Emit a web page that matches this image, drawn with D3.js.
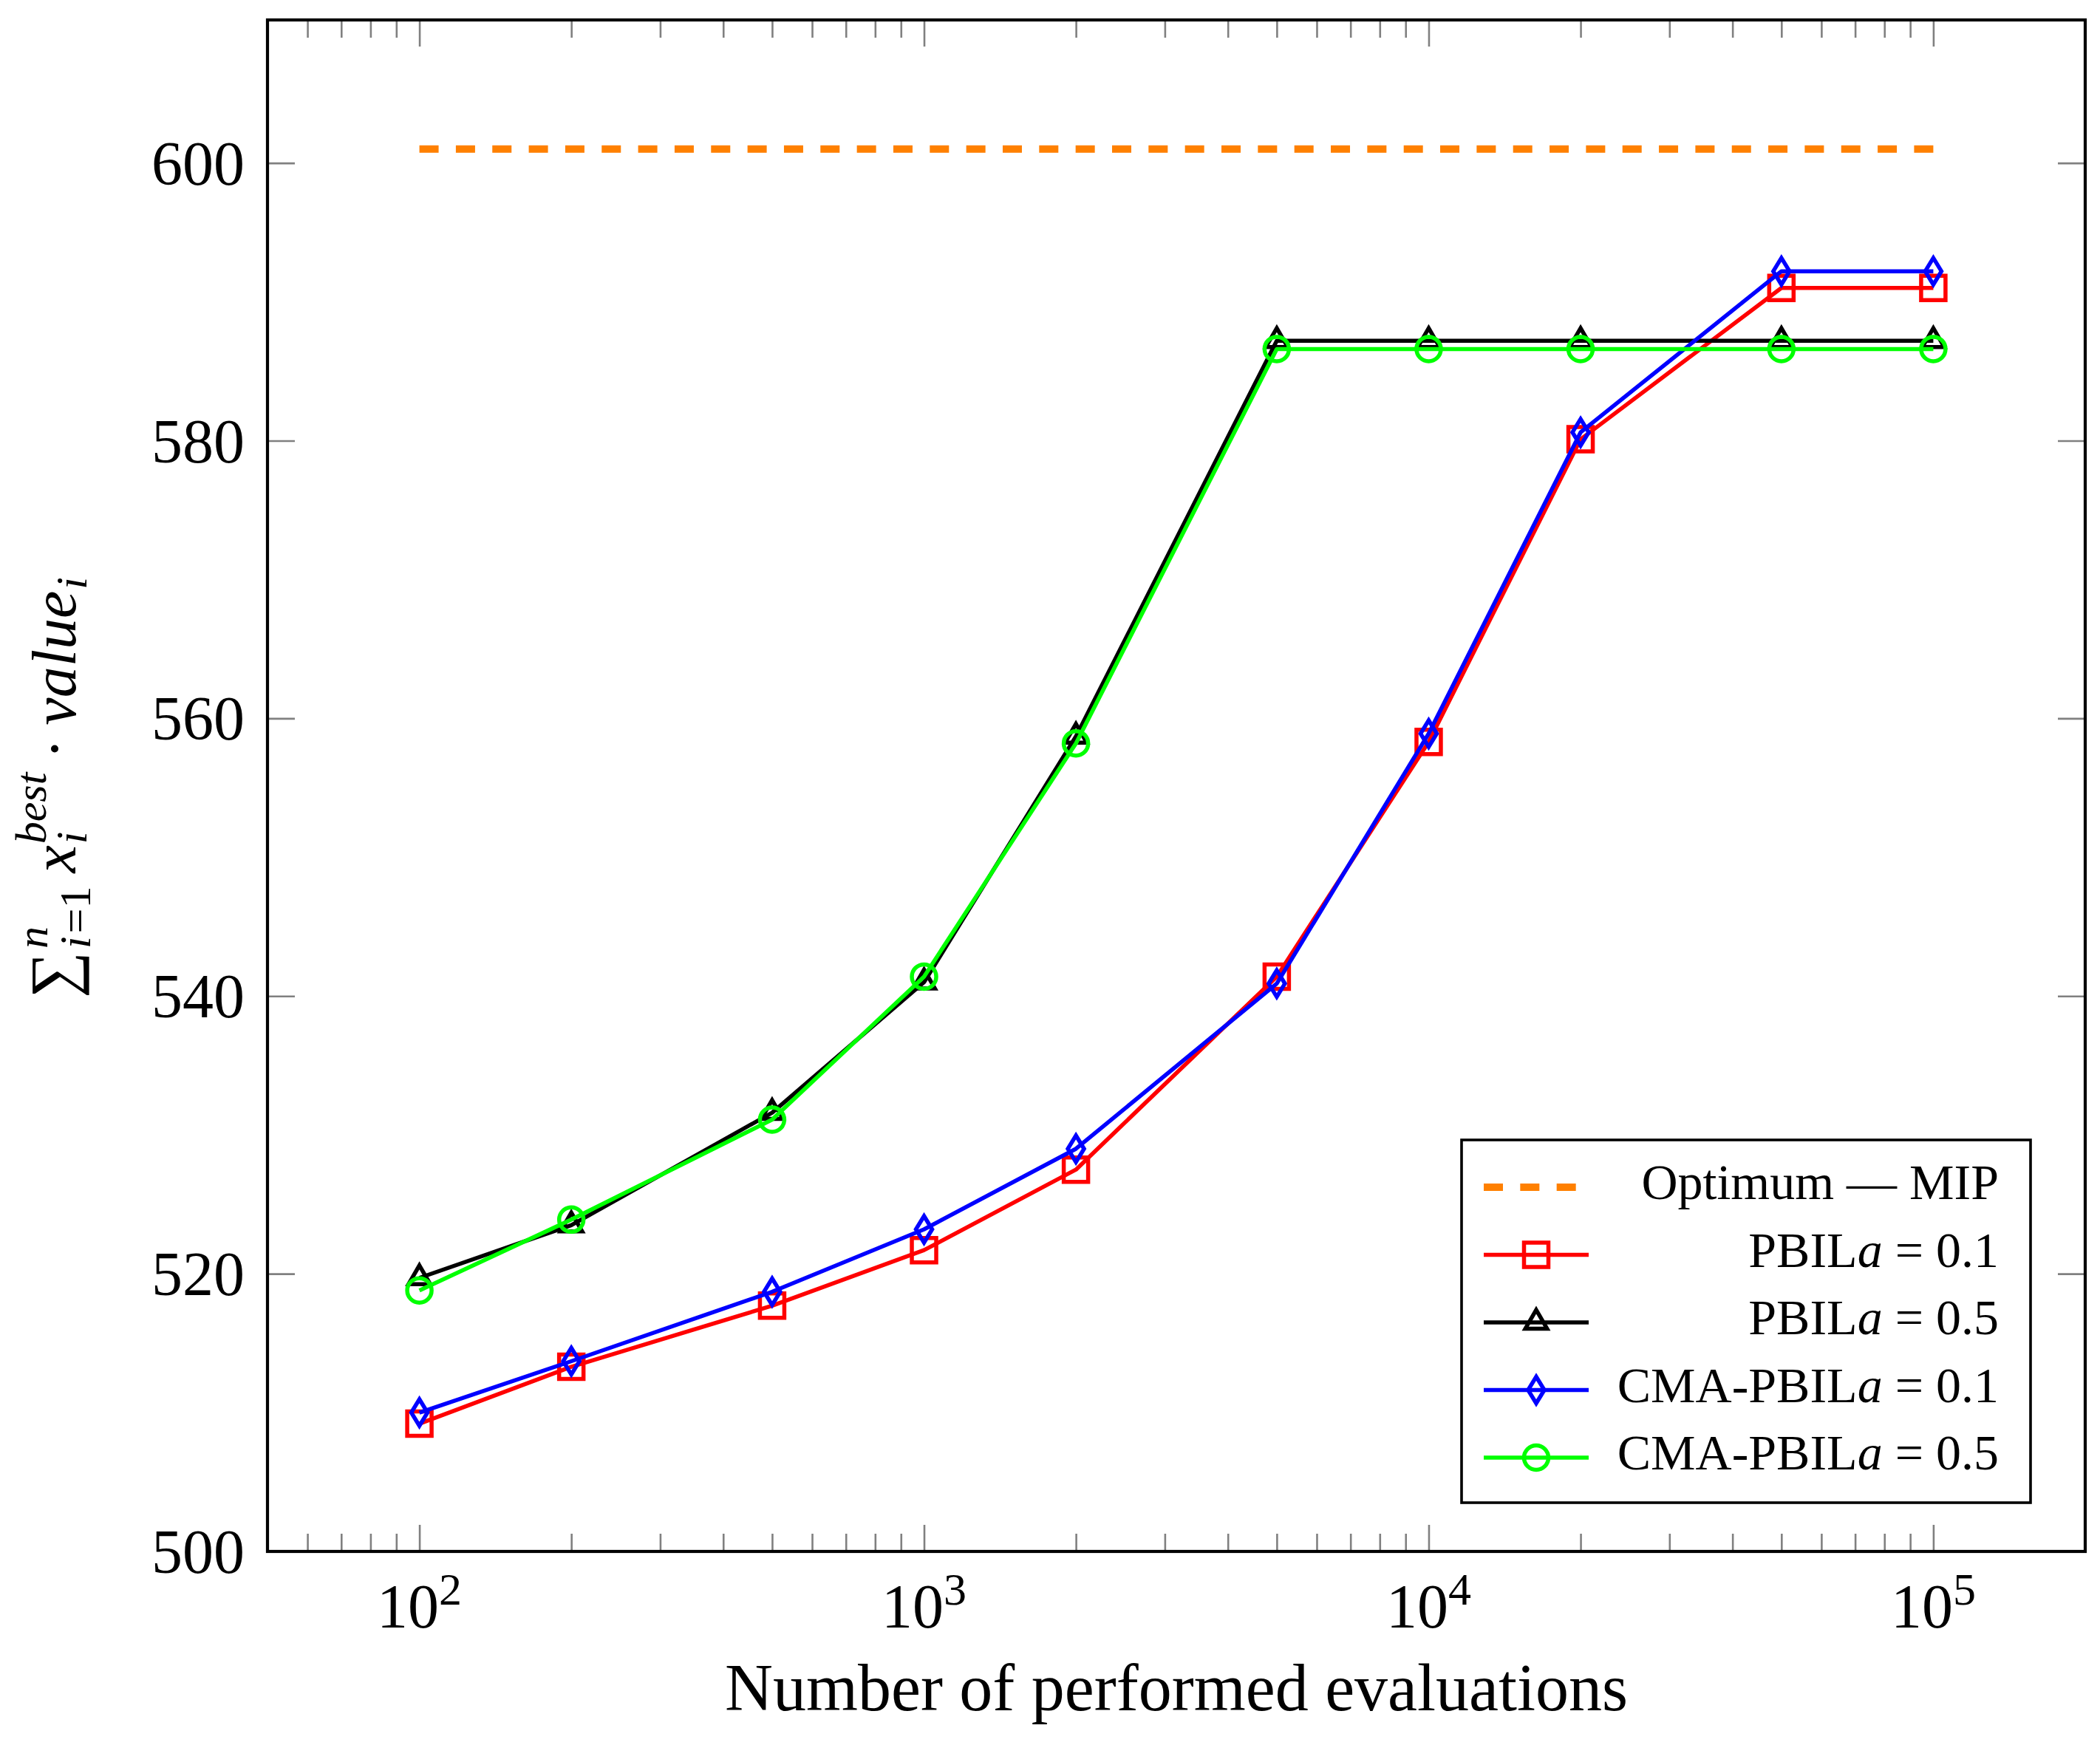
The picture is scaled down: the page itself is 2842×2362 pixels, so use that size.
<!DOCTYPE html>
<html><head><meta charset="utf-8">
<script src="https://cdn.jsdelivr.net/npm/d3@7"></script>
<style>body{margin:0;background:#fff} svg{display:block}</style>
</head><body>
<svg id="chart" width="2842" height="2362"></svg>
<script>
// ---------------- data ----------------
const evaluations = [100, 200, 500, 1000, 2000, 5000, 10000, 20000, 50000, 100000];
const pbil01 = [509.2, 513.3, 517.7, 521.7, 527.5, 541.4, 558.3, 580.1, 591.0, 591.0];
const pbil05 = [519.7, 523.5, 531.6, 541.0, 558.7, 587.2, 587.2, 587.2, 587.2, 587.2];
const cmaPbil01 = [510.0, 513.7, 518.7, 523.2, 529.0, 540.9, 558.9, 580.6, 592.2, 592.2];
const cmaPbil05 = [518.8, 523.9, 531.1, 541.4, 558.2, 586.6, 586.6, 586.6, 586.6, 586.6];
const optimumMIP = 601.0;
const optimumRange = [100, 100000];
const yTicks = [500, 520, 540, 560, 580, 600];
const xMajorTicks = [100, 1000, 10000, 100000];
const xTickExponents = ["2", "3", "4", "5"];
const xMinorTicks = [60, 70, 80, 90, 200, 300, 400, 500, 600, 700, 800, 900,
  2000, 3000, 4000, 5000, 6000, 7000, 8000, 9000,
  20000, 30000, 40000, 50000, 60000, 70000, 80000, 90000];
const xLabel = "Number of performed evaluations";

const series = [
  {name: "PBIL", param: "0.1", values: pbil01, color: "#ff0000", mark: "square"},
  {name: "PBIL", param: "0.5", values: pbil05, color: "#000000", mark: "triangle"},
  {name: "CMA-PBIL", param: "0.1", values: cmaPbil01, color: "#0000ff", mark: "diamond"},
  {name: "CMA-PBIL", param: "0.5", values: cmaPbil05, color: "#00ff00", mark: "circle"}
];

// ---------------- layout ----------------
const FONT = "'Liberation Serif', 'DejaVu Serif', serif";
const box = {left: 362, right: 2822, top: 27, bottom: 2100};
const svg = d3.select("#chart");
svg.append("rect").attr("width", 2842).attr("height", 2362).attr("fill", "#fff");

const x = d3.scaleLog().domain([50, 200000]).range([box.left, box.right]);
const y = d3.scaleLinear().domain([500, 610.3]).range([box.bottom, box.top]);

const tickColor = "#808080", tickW = 2.6;
function styleAxis(g) {
  g.select(".domain").remove();
  g.selectAll(".tick line").attr("stroke", tickColor).attr("stroke-width", tickW);
}

// x ticks (bottom & top, inward)
svg.append("g").attr("transform", `translate(0,${box.bottom})`)
  .call(d3.axisBottom(x).tickValues(xMinorTicks).tickSize(-24).tickFormat(""))
  .call(styleAxis).selectAll("text").remove();
svg.append("g").attr("transform", `translate(0,${box.bottom})`)
  .call(d3.axisBottom(x).tickValues(xMajorTicks).tickSize(-36).tickFormat(""))
  .call(styleAxis).selectAll("text").remove();
svg.append("g").attr("transform", `translate(0,${box.top})`)
  .call(d3.axisTop(x).tickValues(xMinorTicks).tickSize(-24).tickFormat(""))
  .call(styleAxis).selectAll("text").remove();
svg.append("g").attr("transform", `translate(0,${box.top})`)
  .call(d3.axisTop(x).tickValues(xMajorTicks).tickSize(-36).tickFormat(""))
  .call(styleAxis).selectAll("text").remove();

// y ticks (left with labels, right)
const yAxisG = svg.append("g").attr("transform", `translate(${box.left},0)`)
  .call(d3.axisLeft(y).tickValues(yTicks).tickSize(-37).tickPadding(31).tickFormat(d3.format("d")))
  .call(styleAxis);
yAxisG.selectAll(".tick").filter(d => d === 500).select("line").remove();
yAxisG.selectAll("text").attr("font-family", FONT).attr("font-size", 84)
  .attr("fill", "#000").attr("dy", "0.34em");
svg.append("g").attr("transform", `translate(${box.right},0)`)
  .call(d3.axisRight(y).tickValues(yTicks.filter(d => d !== 500)).tickSize(-37).tickFormat(""))
  .call(styleAxis).selectAll("text").remove();

// x tick labels 10^k
xMajorTicks.forEach((v, i) => {
  const t = svg.append("text").attr("x", x(v)).attr("y", 2203)
    .attr("text-anchor", "middle").attr("font-family", FONT).attr("font-size", 84).attr("fill", "#000");
  t.append("tspan").text("10");
  t.append("tspan").attr("dy", -31).attr("font-size", 62).text(xTickExponents[i]);
});

// frame
svg.append("rect").attr("x", box.left).attr("y", box.top)
  .attr("width", box.right - box.left).attr("height", box.bottom - box.top)
  .attr("fill", "none").attr("stroke", "#000").attr("stroke-width", 4.2);

// x label
svg.append("text").attr("x", (box.left + box.right) / 2).attr("y", 2315)
  .attr("text-anchor", "middle").attr("font-family", FONT).attr("font-size", 90)
  .attr("fill", "#000").text(xLabel);

// y label (math)
(function () {
  const g = svg.append("g").attr("transform", "translate(102,1066) rotate(-90)");
  const inner = g.append("g");
  const F = 84, S = 60;
  function put(str, cx, shift, size, italic) {
    const t = inner.append("text").attr("x", cx).attr("y", shift)
      .attr("font-family", FONT).attr("font-size", size)
      .attr("font-style", italic ? "italic" : "normal").attr("fill", "#000").text(str);
    return t.node().getComputedTextLength();
  }
  let cx = 0;
  cx += put("\u2211", cx, 0, F * 1.05, false) + 4;
  const wn = put("n", cx, -38, S, true);
  const wi = put("i", cx, 20, S, true);
  const weq = put("=1", cx + wi + 4, 20, S, false);
  cx += Math.max(wn, wi + 4 + weq) + 18;
  cx += put("x", cx, 0, F, true) + 2;
  const wb = put("best", cx, -40, S, true);
  const wi2 = put("i", cx, 15, S, true);
  cx += Math.max(wb, wi2) + 18;
  cx += put("\u00B7", cx, 0, F, false) + 18;
  cx += put("value", cx, 0, F, true) + 2;
  cx += put("i", cx, 15, S, true);
  inner.attr("transform", `translate(${-cx / 2},0)`);
})();

// ---------------- marks ----------------
function markPath(type) {
  if (type === "square") { const s = 16.5; return `M${-s},${-s}H${s}V${s}H${-s}Z`; }
  if (type === "triangle") { const r = 17; return `M0,${-r}L${0.866 * r},${0.5 * r}L${-0.866 * r},${0.5 * r}Z`; }
  if (type === "diamond") { const h = 18, w = 11; return `M0,${-h}L${w},0L0,${h}L${-w},0Z`; }
  return null;
}
function drawMark(g, type, cx, cy, color) {
  if (type === "circle") {
    g.append("circle").attr("cx", cx).attr("cy", cy).attr("r", 16.5)
      .attr("fill", "none").attr("stroke", color).attr("stroke-width", 5.5);
  } else {
    g.append("path").attr("d", markPath(type)).attr("transform", `translate(${cx},${cy})`)
      .attr("fill", "none").attr("stroke", color).attr("stroke-width", 5.5)
      .attr("stroke-linejoin", "miter");
  }
}

const plotG = svg.append("g");
// optimum MIP dashed line: dash pattern chosen so the last dash closes at the end
const optLen = x(optimumRange[1]) - x(optimumRange[0]);
const dashLen = 26, nPer = Math.round((optLen - dashLen) / 49.3);
const gapLen = (optLen - dashLen) / nPer - dashLen;
const dashArr = `${dashLen} ${gapLen}`;
plotG.append("path")
  .attr("d", d3.line().x(d => x(d)).y(() => y(optimumMIP))(optimumRange))
  .attr("fill", "none").attr("stroke", "#ff8000").attr("stroke-width", 10)
  .attr("stroke-dasharray", dashArr);

const line = d3.line().x((d, i) => x(evaluations[i])).y(d => y(d));
series.forEach(s => {
  const g = plotG.append("g");
  g.append("path").attr("d", line(s.values)).attr("fill", "none")
    .attr("stroke", s.color).attr("stroke-width", 5.5).attr("stroke-linejoin", "round");
  s.values.forEach((v, i) => drawMark(g, s.mark, x(evaluations[i]), y(v), s.color));
});

// ---------------- legend ----------------
const lg = svg.append("g");
lg.append("rect").attr("x", 1978).attr("y", 1543).attr("width", 770).attr("height", 491)
  .attr("fill", "#fff").attr("stroke", "#000").attr("stroke-width", 3.6);
const rowY = i => 1607 + i * 91.5;
const lx0 = 2008, lx1 = 2150, lmx = 2079, textRight = 2705;
lg.append("line").attr("x1", lx0).attr("x2", lx1).attr("y1", rowY(0)).attr("y2", rowY(0))
  .attr("stroke", "#ff8000").attr("stroke-width", 10).attr("stroke-dasharray", dashArr);
lg.append("text").attr("x", textRight).attr("y", rowY(0) + 16).attr("text-anchor", "end")
  .attr("font-family", FONT).attr("font-size", 68).attr("fill", "#000").text("Optimum \u2014 MIP");
series.forEach((s, k) => {
  const yy = rowY(k + 1);
  lg.append("line").attr("x1", lx0).attr("x2", lx1).attr("y1", yy).attr("y2", yy)
    .attr("stroke", s.color).attr("stroke-width", 5.5);
  drawMark(lg, s.mark, lmx, yy, s.color);
  const t = lg.append("text").attr("x", textRight).attr("y", yy + 16).attr("text-anchor", "end")
    .attr("font-family", FONT).attr("font-size", 68).attr("fill", "#000");
  t.append("tspan").text(s.name);
  t.append("tspan").attr("font-style", "italic").text("a");
  t.append("tspan").text(" = " + s.param);
});
</script>
</body></html>
